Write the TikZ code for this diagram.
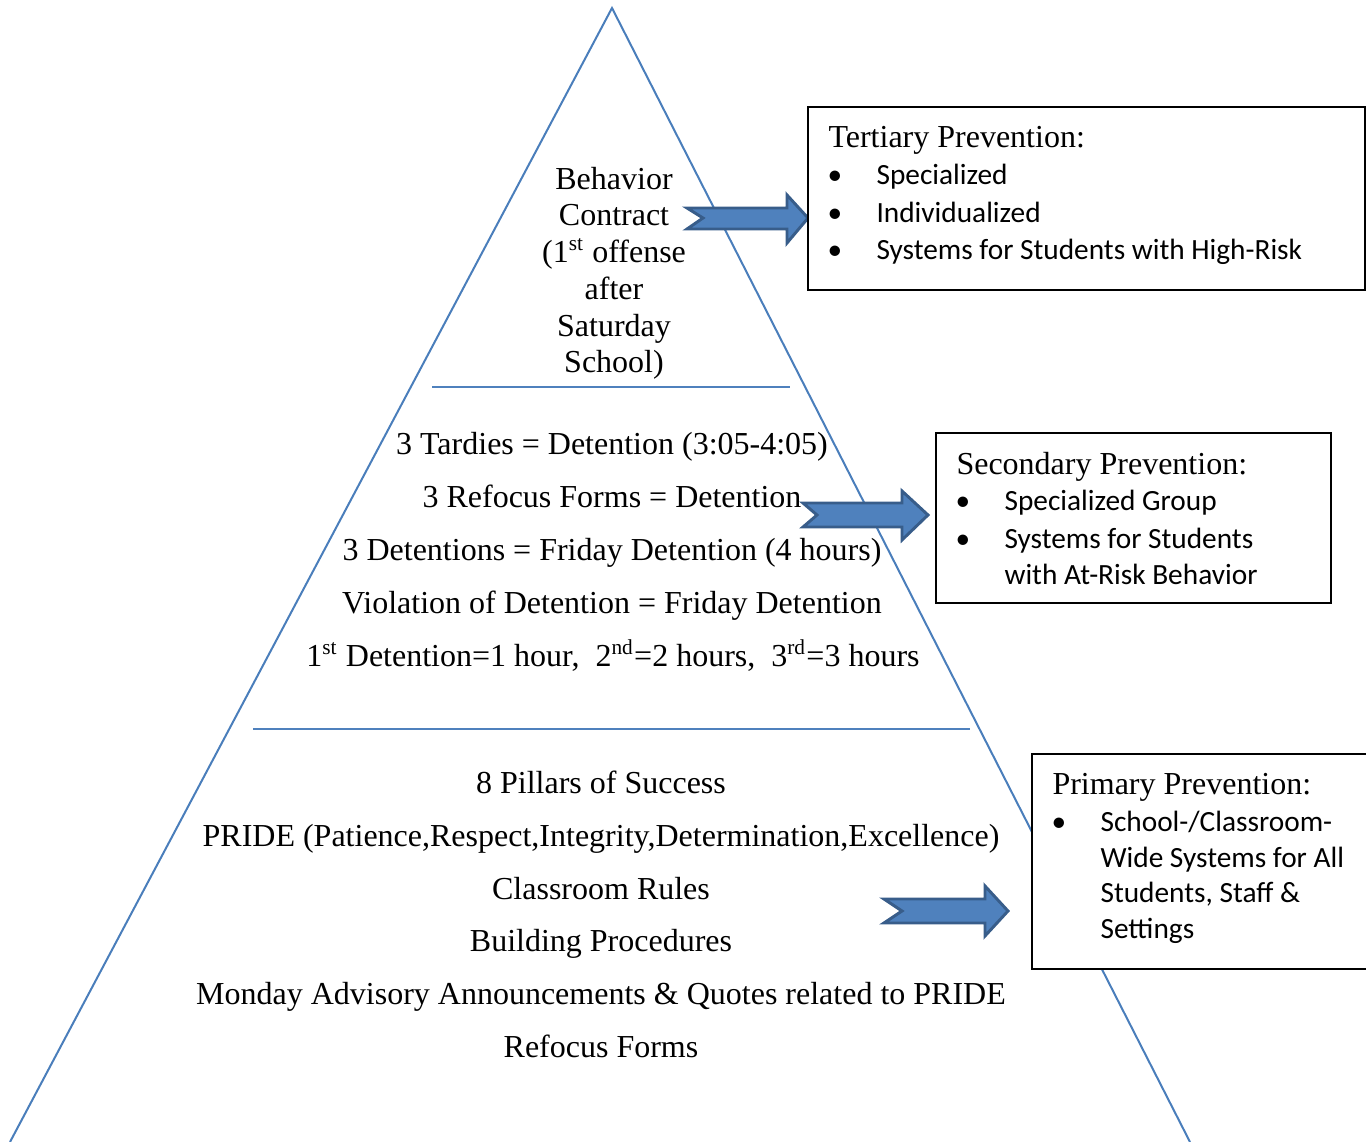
\documentclass[tikz,border=0pt]{standalone}
\usepackage{fontspec}
\setmainfont{Liberation Serif}
\newfontfamily\calibri{Carlito}
\definecolor{triblue}{RGB}{74,126,187}
\definecolor{arrfill}{RGB}{79,129,189}
\definecolor{arrline}{RGB}{56,93,138}
\tikzset{
  tierline/.style={draw=triblue, line width=0.75pt},
  sepline/.style={draw=arrfill, line width=0.6pt},
  tx/.style={anchor=base, inner sep=0pt, font=\fontsize{12}{14}\selectfont},
  bx/.style={anchor=base west, inner sep=0pt, font=\fontsize{12}{14}\selectfont},
  cb/.style={anchor=base west, inner sep=0pt, font=\calibri\fontsize{11}{13}\selectfont},
  bul/.style={anchor=base, inner sep=0pt, font=\calibri\fontsize{11}{13}\selectfont},
  prevbox/.style={draw=black, fill=white, line width=0.75pt},
  blockarrow/.style={fill=arrfill, draw=arrline, line width=1.1pt, line join=miter},
}
\begin{document}
\begin{tikzpicture}[x=0.375pt, y=-0.375pt]
\useasboundingbox (0,0) rectangle (1366,1142);
\clip (0,0) rectangle (1366,1142);
% triangle
\coordinate (apex) at (612,8);
\coordinate (bl) at (10,1142);
\coordinate (br) at (1190,1142);
\draw[tierline, line join=miter] (bl) -- (apex) -- (br);
% separator lines
\coordinate (s1a) at (432,387); \coordinate (s1b) at (790,387);
\coordinate (s2a) at (253,729); \coordinate (s2b) at (970,729);
\draw[sepline] (s1a) -- (s1b);
\draw[sepline] (s2a) -- (s2b);
% top tier
\node[tx] (t1) at (614,189) {Behavior};
\node[tx] (t2) at (614,225) {Contract};
\node[tx] (t3) at (614,262) {(1\textsuperscript{st} offense};
\node[tx] (t4) at (614,299) {after};
\node[tx] (t5) at (614,336) {Saturday};
\node[tx] (t6) at (614,372) {School)};
% middle tier
\node[tx] (m1) at (612,454) {3 Tardies = Detention (3:05-4:05)};
\node[tx] (m2) at (612,507) {3 Refocus Forms = Detention};
\node[tx] (m3) at (612,560) {3 Detentions = Friday Detention (4 hours)};
\node[tx] (m4) at (612,613) {Violation of Detention = Friday Detention};
\node[tx] (m5) at (613,666) {1\textsuperscript{st} Detention=1 hour,\ \ 2\textsuperscript{nd}=2 hours,\ \ 3\textsuperscript{rd}=3 hours};
% bottom tier
\node[tx] (b1) at (601,793) {8 Pillars of Success};
\node[tx] (b2) at (601,846) {PRIDE (Patience,Respect,Integrity,Determination,Excellence)};
\node[tx] (b3) at (601,899) {Classroom Rules};
\node[tx] (b4) at (601,951) {Building Procedures};
\node[tx] (b5) at (601,1004) {Monday Advisory Announcements \& Quotes related to PRIDE};
\node[tx] (b6) at (601,1057) {Refocus Forms};
% block arrows
\filldraw[blockarrow] (687,208) -- (787,208) -- (787,195) -- (808,218) -- (787,243) -- (787,229) -- (687,229) -- (703,218) -- cycle;
\filldraw[blockarrow] (803,503) -- (902,503) -- (902,491) -- (928,515) -- (902,540) -- (902,527) -- (803,527) -- (817,515) -- cycle;
\filldraw[blockarrow] (884,899) -- (985,899) -- (985,886) -- (1008,911) -- (985,936) -- (985,923) -- (884,923) -- (902,911) -- cycle;
% boxes
\draw[prevbox] (808,107) rectangle (1365,290);
\node[bx] (p1) at (828,148) {Tertiary Prevention:};
\node[bul] (p1b1) at (835,184) {\textbullet};
\node[cb] (p1a) at (876,184) {Specialized};
\node[bul] (p1b2) at (835,222) {\textbullet};
\node[cb] (p1c) at (876,222) {Individualized};
\node[bul] (p1b3) at (835,259) {\textbullet};
\node[cb] (p1d) at (876,259) {Systems for Students with High-Risk};
\draw[prevbox] (936,433) rectangle (1331,603);
\node[bx] (p2) at (956,474) {Secondary Prevention:};
\node[bul] (p2b1) at (963,510) {\textbullet};
\node[cb] (p2a) at (1004,510) {Specialized Group};
\node[bul] (p2b2) at (963,548) {\textbullet};
\node[cb] (p2c) at (1004,548) {Systems for Students};
\node[cb] (p2d) at (1004,584) {with At-Risk Behavior};
\draw[prevbox] (1032,754) rectangle (1380,969);
\node[bx] (p3) at (1052,794) {Primary Prevention:};
\node[bul] (p3b1) at (1059,831) {\textbullet};
\node[cb] (p3a) at (1100,831) {School-/Classroom-};
\node[cb] (p3c) at (1100,867) {Wide Systems for All};
\node[cb] (p3d) at (1100,902) {Students, Staff \&};
\node[cb] (p3e) at (1100,938) {Settings};
\end{tikzpicture}
\end{document}
